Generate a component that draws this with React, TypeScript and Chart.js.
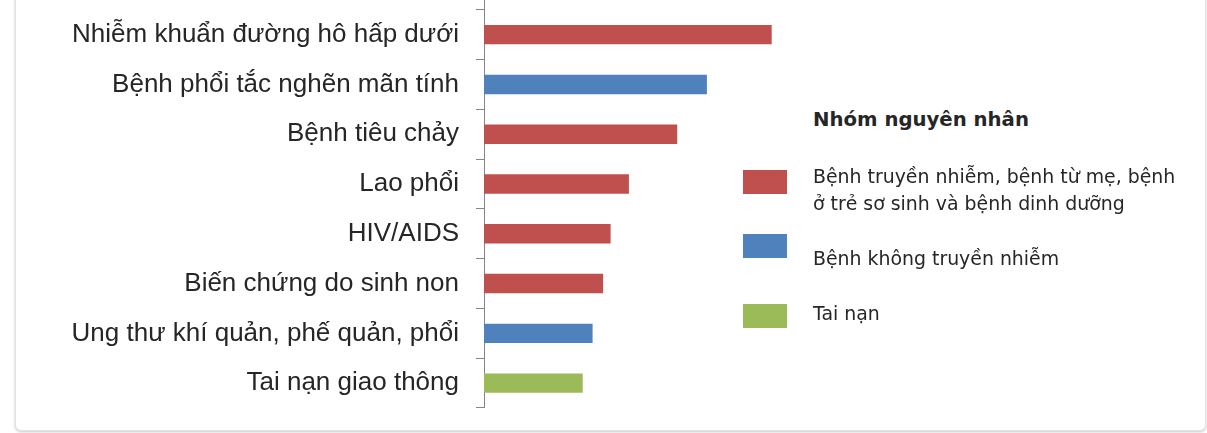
import React, { useEffect, useRef } from "react";
import { Chart, registerables } from "chart.js";

Chart.register(...registerables);

// Categories (the first one is cut off above the visible area in the reference)
const categories: string[] = [
  "",
  "Nhiễm khuẩn đường hô hấp dưới",
  "Bệnh phổi tắc nghẽn mãn tính",
  "Bệnh tiêu chảy",
  "Lao phổi",
  "HIV/AIDS",
  "Biến chứng do sinh non",
  "Ung thư khí quản, phế quản, phổi",
  "Tai nạn giao thông",
];

// Estimated values (relative units, axis max 100)
const values: (number | null)[] = [null, 95.9, 74.3, 64.4, 48.3, 42.2, 39.7, 36.2, 32.9];

// Cause group of each category: 0 communicable, 1 non-communicable, 2 injuries
const groups: number[] = [0, 0, 1, 0, 0, 0, 0, 1, 2];

const groupNames: string[] = [
  "Bệnh truyền nhiễm, bệnh từ mẹ, bệnh\nở trẻ sơ sinh và bệnh dinh dưỡng",
  "Bệnh không truyền nhiễm",
  "Tai nạn",
];
const groupColors: string[] = ["#C0504D", "#4F81BD", "#9BBB59"];
const legendTitle = "Nhóm nguyên nhân";
const xMax = 100;

export default function App() {
  const canvasRef = useRef<HTMLCanvasElement | null>(null);

  useEffect(() => {
    if (!canvasRef.current) return;
    const chart = new Chart(canvasRef.current, {
      type: "bar",
      data: {
        labels: categories,
        datasets: [
          {
            data: values,
            backgroundColor: groups.map((g) => groupColors[g]),
            borderWidth: 0,
            categoryPercentage: 1,
            barPercentage: 0.39,
          },
        ],
      },
      options: {
        indexAxis: "y",
        animation: false,
        responsive: false,
        maintainAspectRatio: false,
        devicePixelRatio: 1,
        layout: { padding: 0, autoPadding: false },
        plugins: {
          legend: { display: false },
          tooltip: { enabled: false },
          title: { display: false },
        },
        scales: {
          x: {
            display: false,
            min: 0,
            max: xMax,
          },
          y: {
            position: "left",
            border: { display: true, color: "#868686", width: 1 },
            grid: {
              display: true,
              drawOnChartArea: false,
              drawTicks: true,
              tickLength: 8,
              color: "#868686",
              offset: true,
            },
            ticks: {
              color: "#262626",
              padding: 17,
              font: { family: "'Liberation Sans', Arial, sans-serif", size: 26 },
              autoSkip: false,
            },
            afterFit: (scale: any) => {
              scale.width = 484;
              scale.paddingTop = 0;
              scale.paddingBottom = 0;
            },
          },
        },
      },
    });
    return () => chart.destroy();
  }, []);

  const legendFont = "'DejaVu Sans', Verdana, sans-serif";
  const boxTops = [170, 234, 304];
  const textTops = [163, 245, 300];

  return (
    <div
      style={{
        position: "absolute",
        left: 0,
        top: 0,
        width: 1207,
        height: 433,
        overflow: "hidden",
        background: "#ffffff",
      }}
    >
      <div
        style={{
          position: "absolute",
          left: 15,
          top: -40,
          width: 1189,
          height: 469,
          border: "1px solid #e2e2e2",
          borderRadius: 6,
          boxShadow: "0 1px 3px rgba(0,0,0,0.22)",
          background: "#ffffff",
        }}
      />
      <canvas
        ref={canvasRef}
        width={784}
        height={448}
        style={{ position: "absolute", left: 0, top: -40, width: 784, height: 448 }}
      />
      <div
        style={{
          position: "absolute",
          left: 813,
          top: 106,
          fontFamily: legendFont,
          fontWeight: "bold",
          fontSize: 19.7,
          lineHeight: "27px",
          color: "#262626",
          whiteSpace: "nowrap",
        }}
      >
        {legendTitle}
      </div>
      {groupNames.map((name, i) => (
        <React.Fragment key={i}>
          <div
            style={{
              position: "absolute",
              left: 743,
              top: boxTops[i],
              width: 44,
              height: 24,
              background: groupColors[i],
            }}
          />
          <div
            style={{
              position: "absolute",
              left: 813,
              top: textTops[i],
              fontFamily: legendFont,
              fontSize: 18.9,
              lineHeight: "27px",
              color: "#262626",
              whiteSpace: "pre",
            }}
          >
            {name}
          </div>
        </React.Fragment>
      ))}
    </div>
  );
}
